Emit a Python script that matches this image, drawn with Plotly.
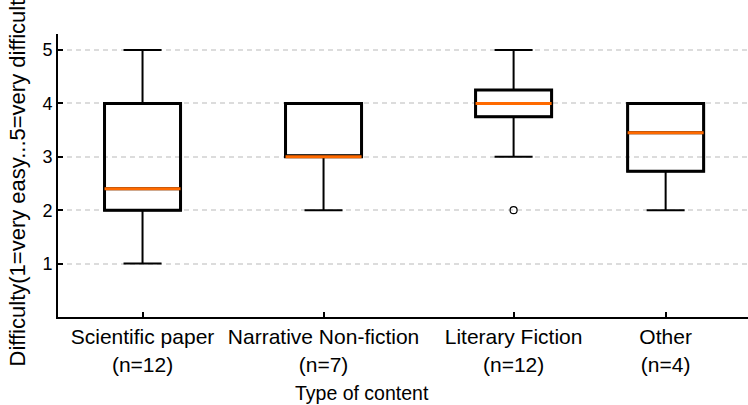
import plotly.graph_objects as go

# Difficulty ratings per content type (summary statistics)
categories = ["Scientific paper", "Narrative Non-fiction", "Literary Fiction", "Other"]
counts = [12, 7, 12, 4]
positions = [1.0, 2.0, 3.05, 3.89]
whisker_low = [1, 2, 3, 2]
q1 = [2, 3, 3.75, 2.73]
median = [2.4, 3, 4, 3.45]
q3 = [4, 4, 4.25, 4]
whisker_high = [5, 4, 5, 4]
outlier_cat = ["Literary Fiction"]
outlier_val = [2]

tick_labels = [f"{c}<br>(n={n})" for c, n in zip(categories, counts)]
y_ticks = [1, 2, 3, 4, 5]
y_title = "Difficulty(1=very easy...5=very difficult)"
x_title = "Type of content"

BOX_W = 0.42
ORANGE = "#ff6a00"
FONT = "Liberation Sans, Arial, sans-serif"

fig = go.Figure()

for i, p in enumerate(positions):
    # whiskers and caps
    fig.add_trace(go.Box(
        x=[p], q1=[q1[i]], median=[median[i]], q3=[q3[i]],
        lowerfence=[whisker_low[i]], upperfence=[whisker_high[i]],
        width=BOX_W, whiskerwidth=0.5,
        line=dict(color="black", width=2), fillcolor="rgba(0,0,0,0)",
        boxpoints=False, hoverinfo="skip", showlegend=False,
    ))
    # heavier box outline
    fig.add_trace(go.Box(
        x=[p], q1=[q1[i]], median=[median[i]], q3=[q3[i]],
        lowerfence=[q1[i]], upperfence=[q3[i]],
        width=BOX_W, whiskerwidth=0,
        line=dict(color="black", width=3), fillcolor="rgba(0,0,0,0)",
        boxpoints=False, hoverinfo="skip", showlegend=False,
    ))
    # median line
    fig.add_trace(go.Scatter(
        x=[p - BOX_W / 2, p + BOX_W / 2], y=[median[i], median[i]],
        mode="lines", line=dict(color=ORANGE, width=3),
        hoverinfo="skip", showlegend=False,
    ))

# outliers
fig.add_trace(go.Scatter(
    x=[positions[categories.index(c)] for c in outlier_cat], y=outlier_val,
    mode="markers",
    marker=dict(symbol="circle-open", size=7, color="black", line=dict(width=1.2)),
    showlegend=False, hoverinfo="skip",
))

# axis titles as annotations in the margins
fig.add_annotation(
    text=y_title, textangle=-90,
    xref="paper", yref="paper", x=-0.058, y=-0.182,
    xanchor="center", yanchor="bottom", showarrow=False,
    font=dict(family=FONT, size=22, color="black"),
)
fig.add_annotation(
    text=x_title,
    xref="paper", yref="paper", x=0.44, y=-0.27,
    xanchor="center", yanchor="middle", showarrow=False,
    font=dict(family=FONT, size=19.5, color="black"),
)

fig.update_layout(
    width=748, height=405,
    margin=dict(l=58, r=0, t=34, b=88),
    plot_bgcolor="white", paper_bgcolor="white",
    font=dict(family=FONT, size=18, color="black"),
    xaxis=dict(
        range=[0.533, 4.345],
        tickmode="array", tickvals=positions, ticktext=tick_labels, tickangle=0,
        tickfont=dict(size=21),
        ticks="inside", ticklen=5, tickwidth=2, tickcolor="black",
        showline=True, linecolor="black", linewidth=2,
        showgrid=False, zeroline=False,
    ),
    yaxis=dict(
        range=[0, 5.3],
        tickmode="array", tickvals=y_ticks,
        tickfont=dict(size=18),
        ticks="inside", ticklen=5, tickwidth=2, tickcolor="black",
        showline=True, linecolor="black", linewidth=2,
        showgrid=True, gridcolor="#dcdcdc", gridwidth=2, griddash="5px,4px",
        zeroline=False,
    ),
)

fig.write_html("out.html")
